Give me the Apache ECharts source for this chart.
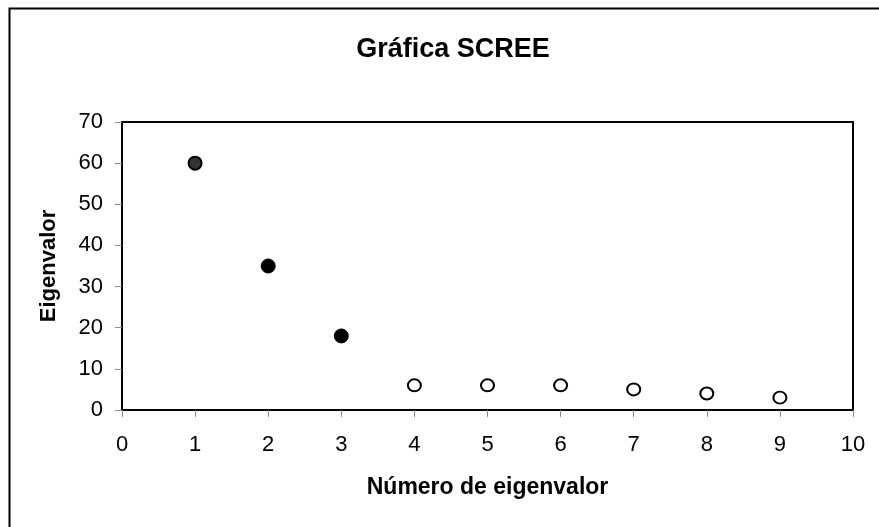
<!DOCTYPE html>
<html>
<head>
<meta charset="utf-8">
<script src="https://cdn.jsdelivr.net/npm/echarts@6/dist/echarts.min.js"></script>
<style>
  html, body { margin: 0; padding: 0; background: #fff; }
  #main { width: 879px; height: 527px; }
</style>
</head>
<body>
<div id="main"></div>
<script>
// eigenvalues
var retained = [[1, 60], [2, 35], [3, 18]];
var discarded = [[4, 6], [5, 6], [6, 6], [7, 5], [8, 4], [9, 3]];

var chart = echarts.init(document.getElementById("main"));
var font = "Liberation Sans, Arial, sans-serif";

var option = {
  backgroundColor: "#fff",
  animation: false,
  textStyle: { fontFamily: font },
  title: {
    text: "Gráfica SCREE",
    left: 448,
    textAlign: "center",
    top: 31,
    textStyle: { fontFamily: font, fontSize: 27, fontWeight: "bold", color: "#000" }
  },
  graphic: [
    {
      type: "rect",
      shape: { x: 9.5, y: 8.5, width: 900, height: 600 },
      style: { fill: "none", stroke: "#000", lineWidth: 2 },
      silent: true
    }
  ],
  grid: {
    left: 122, top: 122, right: 26, bottom: 117,
    show: true, borderColor: "#000", borderWidth: 2
  },
  xAxis: {
    type: "value",
    min: 0, max: 10, interval: 1,
    name: "Número de eigenvalor",
    nameLocation: "middle",
    nameGap: 66,
    nameTextStyle: { fontFamily: font, fontSize: 23, fontWeight: "bold", color: "#000" },
    axisLine: { show: true, lineStyle: { color: "#000", width: 2 } },
    axisTick: { show: true, length: 7, lineStyle: { color: "#888" } },
    axisLabel: { fontSize: 22, color: "#000", margin: 24, fontFamily: font },
    splitLine: { show: false }
  },
  yAxis: {
    type: "value",
    min: 0, max: 70, interval: 10,
    name: "Eigenvalor",
    nameLocation: "middle",
    nameGap: 62,
    nameTextStyle: { fontFamily: font, fontSize: 22, fontWeight: "bold", color: "#000" },
    axisLine: { show: true, lineStyle: { color: "#000", width: 2 } },
    axisTick: { show: true, length: 7, lineStyle: { color: "#888" } },
    axisLabel: { fontSize: 22, color: "#000", margin: 19, fontFamily: font },
    splitLine: { show: false }
  },
  series: [
    {
      type: "scatter",
      data: retained.slice(0, 1),
      symbolSize: 13,
      itemStyle: { color: "#333", borderColor: "#000", borderWidth: 2, opacity: 1 }
    },
    {
      type: "scatter",
      data: retained.slice(1),
      symbolSize: 14,
      itemStyle: { color: "#000", borderColor: "#000", borderWidth: 1, opacity: 1 }
    },
    {
      type: "scatter",
      data: discarded,
      symbolSize: [13, 12],
      itemStyle: { color: "#fff", borderColor: "#000", borderWidth: 2, opacity: 1 }
    }
  ]
};

chart.setOption(option);
</script>
</body>
</html>
